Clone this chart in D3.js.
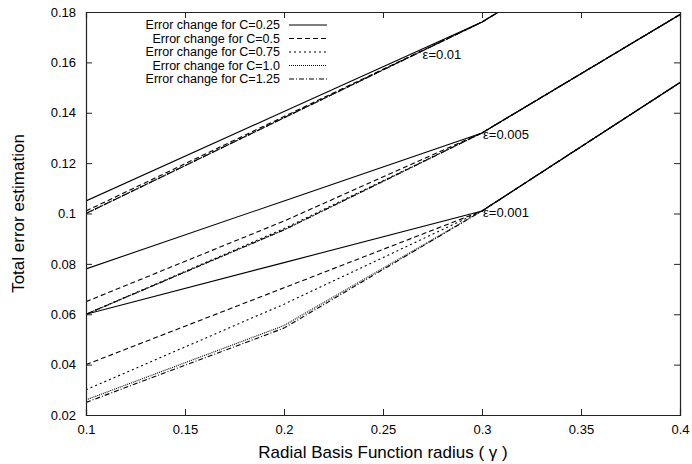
<!DOCTYPE html>
<html>
<head>
<meta charset="utf-8">
<script src="https://cdn.jsdelivr.net/npm/d3@7"></script>
<style>
  body { margin: 0; background: #fff; }
  svg { font-family: "Liberation Sans", Arial, sans-serif; }
</style>
</head>
<body>
<div id="chart"></div>
<script>
// radius values (x) and the C / epsilon settings
var gammas = [0.1, 0.2, 0.3, 0.4];
var cValues = ["0.25", "0.5", "0.75", "1.0", "1.25"];
var epsLabels = ["0.01", "0.005", "0.001"];

// total error, one row per C, for each epsilon
var errEps001 = [
  [0.105, 0.1405, 0.176, 0.224],
  [0.101, 0.1385, 0.176, 0.224],
  [0.100, 0.138, 0.176, 0.224],
  [0.100, 0.138, 0.176, 0.224],
  [0.100, 0.138, 0.176, 0.224]
];
var errEps0005 = [
  [0.078, 0.105, 0.132, 0.179],
  [0.065, 0.097, 0.132, 0.179],
  [0.060, 0.094, 0.132, 0.179],
  [0.060, 0.0935, 0.132, 0.179],
  [0.060, 0.0935, 0.132, 0.179]
];
var errEps0001 = [
  [0.060, 0.0805, 0.101, 0.152],
  [0.040, 0.0705, 0.101, 0.152],
  [0.030, 0.064, 0.101, 0.152],
  [0.026, 0.0555, 0.101, 0.152],
  [0.025, 0.0545, 0.101, 0.152]
];

var xTicks = [0.1, 0.15, 0.2, 0.25, 0.3, 0.35, 0.4];
var yTicks = [0.02, 0.04, 0.06, 0.08, 0.1, 0.12, 0.14, 0.16, 0.18];

var dashes = ["none", "5,3", "2,3", "1,1", "5,2,1,2"];

var W = 692, H = 464;
var margin = {top: 12, right: 12, bottom: 49, left: 86};
var w = W - margin.left - margin.right,
    h = H - margin.top - margin.bottom;

var svg = d3.select("#chart").append("svg")
  .attr("width", W)
  .attr("height", H);

var g = svg.append("g")
  .attr("transform", "translate(" + margin.left + "," + margin.top + ")");

var x = d3.scaleLinear().domain([0.1, 0.4]).range([0, w]);
var y = d3.scaleLinear().domain([0.02, 0.18]).range([h, 0]);

g.append("clipPath").attr("id", "clip")
  .append("rect").attr("width", w).attr("height", h);

var line = d3.line()
  .x(function(d, i) { return x(gammas[i]); })
  .y(function(d) { return y(d); });

var groups = [errEps001, errEps0005, errEps0001];
var lines = g.append("g").attr("clip-path", "url(#clip)");
groups.forEach(function(rows) {
  rows.forEach(function(vals, ci) {
    lines.append("path")
      .datum(vals)
      .attr("d", line)
      .attr("fill", "none")
      .attr("stroke", "#000")
      .attr("stroke-width", 1.1)
      .attr("stroke-dasharray", dashes[ci]);
  });
});

// axes, gnuplot style: ticks inside, mirrored
var fmt = function(d) { return d3.format("")(+d.toFixed(2)); };
var axB = g.append("g").attr("transform", "translate(0," + h + ")")
  .call(d3.axisBottom(x).tickValues(xTicks).tickSize(-6).tickPadding(10).tickFormat(fmt));
var axT = g.append("g")
  .call(d3.axisTop(x).tickValues(xTicks).tickSize(-6).tickFormat(""));
var axL = g.append("g")
  .call(d3.axisLeft(y).tickValues(yTicks).tickSize(-6).tickPadding(10).tickFormat(fmt));
var axR = g.append("g").attr("transform", "translate(" + w + ",0)")
  .call(d3.axisRight(y).tickValues(yTicks).tickSize(-6).tickFormat(""));

[axB, axT, axL, axR].forEach(function(a) {
  a.select(".domain").attr("stroke", "#222").attr("stroke-width", 1.2);
  a.selectAll(".tick line").attr("stroke", "#222");
  a.selectAll("text").attr("font-size", 13).attr("fill", "#000")
    .attr("font-family", "Liberation Sans, Arial, sans-serif");
});

// epsilon labels
var epsPos = [[0.27, 0.163], [0.3, 0.1315], [0.3, 0.1005]];
epsLabels.forEach(function(e, i) {
  g.append("text")
    .attr("x", x(epsPos[i][0]) + (i ? 1 : 0))
    .attr("y", y(epsPos[i][1]))
    .attr("dy", "0.35em")
    .attr("font-size", 13)
    .text("\u03b5=" + e);
});

// legend
var leg = g.append("g").attr("transform", "translate(0,0)");
cValues.forEach(function(c, i) {
  var ly = 13 + i * 13.5;
  leg.append("text")
    .attr("x", 194)
    .attr("y", ly)
    .attr("dy", "0.35em")
    .attr("text-anchor", "end")
    .attr("font-size", 12.5)
    .text("Error change for C=" + c);
  leg.append("line")
    .attr("x1", 203).attr("x2", 241)
    .attr("y1", ly).attr("y2", ly)
    .attr("stroke", "#000")
    .attr("stroke-width", 1.1)
    .attr("stroke-dasharray", dashes[i]);
});

// axis titles
svg.append("text")
  .attr("x", margin.left + w / 2)
  .attr("y", H - 6)
  .attr("text-anchor", "middle")
  .attr("font-size", 17)
  .text("Radial Basis Function radius ( \u03b3 )");

svg.append("text")
  .attr("transform", "translate(24," + (margin.top + h / 2) + ") rotate(-90)")
  .attr("text-anchor", "middle")
  .attr("font-size", 17)
  .text("Total error estimation");
</script>
</body>
</html>
